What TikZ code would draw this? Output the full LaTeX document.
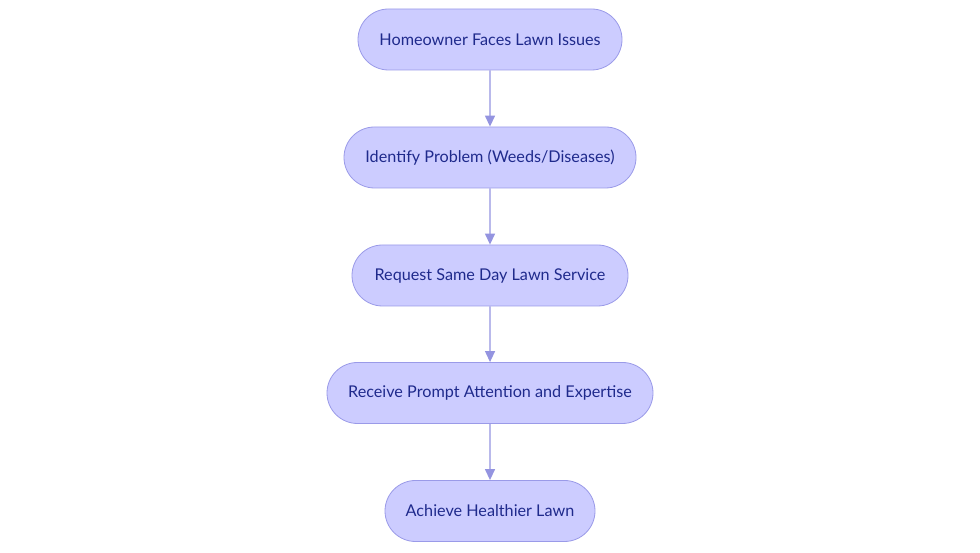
\documentclass[tikz,border=0pt]{standalone}
\usepackage{fontspec}
\setmainfont{Lato}
\usetikzlibrary{arrows.meta,shapes.misc}
\definecolor{boxfill}{HTML}{CCCCFF}
\definecolor{boxline}{HTML}{9A9AE8}
\definecolor{txt}{HTML}{1F2A8C}
\definecolor{arr}{HTML}{9494E0}
\tikzset{
 box/.style={rounded rectangle, draw=boxline, fill=boxfill, line width=0.8pt, minimum height=61pt, text=txt, font=\fontsize{16.2pt}{19pt}\selectfont, inner xsep=0pt},
 conn/.style={draw=arr, line width=1.3pt, -{Triangle[length=11pt,width=10pt]}}
}
\begin{document}
\begin{tikzpicture}[x=1pt,y=1pt]
\useasboundingbox (0,0) rectangle (980,553);
\node[box, minimum width=264pt] (a) at (490,513.5) {Homeowner Faces Lawn Issues};
\node[box, minimum width=292pt] (b) at (490,395.5) {Identify Problem (Weeds/Diseases)};
\node[box, minimum width=276pt] (c) at (490,277.5) {Request Same Day Lawn Service};
\node[box, minimum width=326pt] (d) at (490,160) {Receive Prompt Attention and Expertise};
\node[box, minimum width=210pt] (e) at (490,42) {Achieve Healthier Lawn};
\draw[conn] (a) -- (b);
\draw[conn] (b) -- (c);
\draw[conn] (c) -- (d);
\draw[conn] (d) -- (e);
\end{tikzpicture}
\end{document}
